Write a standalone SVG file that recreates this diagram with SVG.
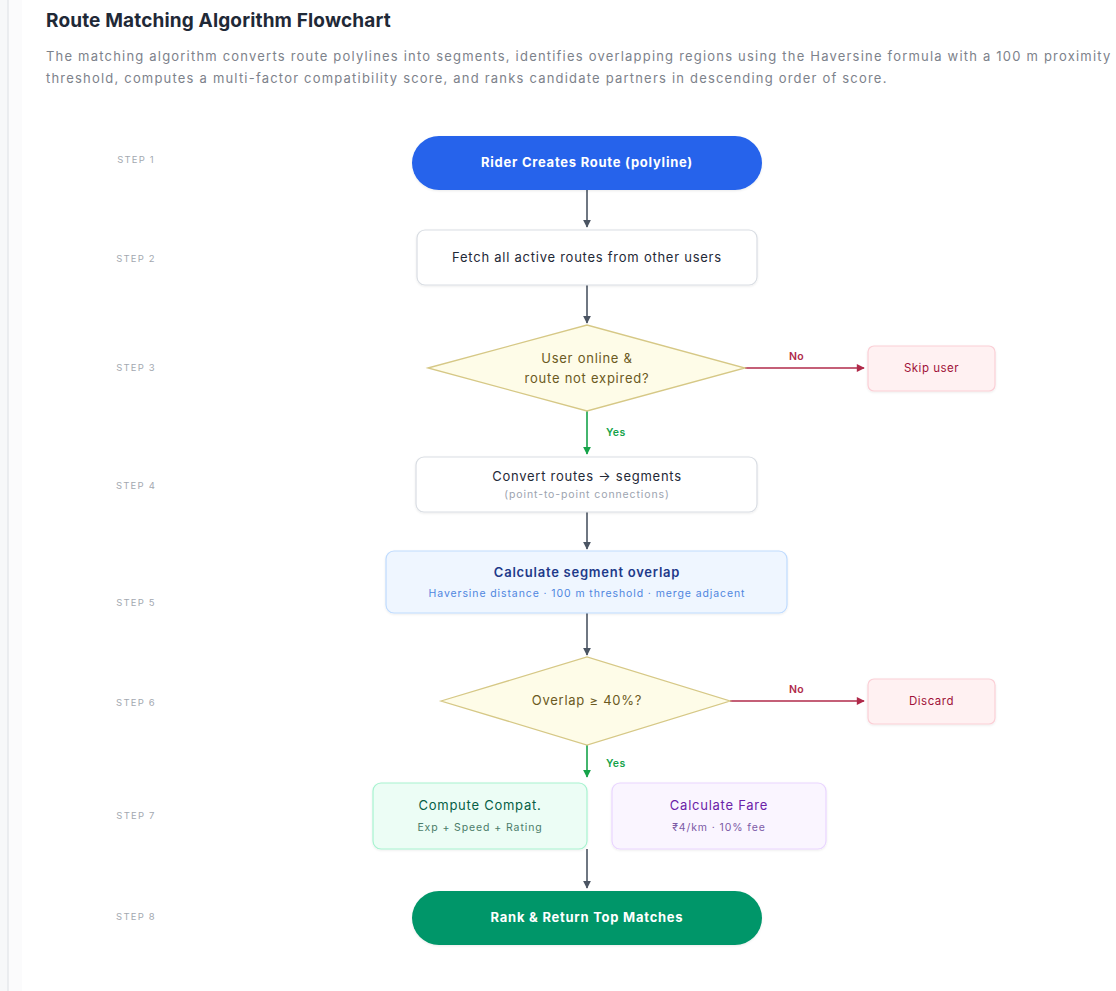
<svg xmlns="http://www.w3.org/2000/svg" width="1116" height="991" viewBox="0 0 1116 991">
<defs>
<style>
text{font-family:Inter,"Noto Sans","Liberation Sans",sans-serif}
.step{font-size:9.5px;fill:#a3a8b0;letter-spacing:1.2px;text-anchor:middle}
.t{font-size:13px;letter-spacing:0.75px;text-anchor:middle}
.s{font-size:10.5px;letter-spacing:0.9px;text-anchor:middle}
.lbl{font-size:10.5px;font-weight:600;letter-spacing:0.4px}
.box{fill:#ffffff;stroke:#d9dde3;stroke-width:1.2}
.conn{fill:none;stroke-width:1.6}
</style>
<marker id="ad" viewBox="0 0 10 10" refX="9" refY="5" markerWidth="8" markerHeight="8" orient="auto" markerUnits="userSpaceOnUse"><path d="M0,0 L10,5 L0,10 z" fill="#4b5563"/></marker>
<marker id="ag" viewBox="0 0 10 10" refX="9" refY="5" markerWidth="8" markerHeight="8" orient="auto" markerUnits="userSpaceOnUse"><path d="M0,0 L10,5 L0,10 z" fill="#16a34a"/></marker>
<marker id="ar" viewBox="0 0 10 10" refX="9" refY="5" markerWidth="9" markerHeight="8" orient="auto" markerUnits="userSpaceOnUse"><path d="M0,0 L10,5 L0,10 z" fill="#b02a4a"/></marker>
<filter id="sh" x="-10%" y="-20%" width="120%" height="150%"><feDropShadow dx="0" dy="1" stdDeviation="1.2" flood-color="#000" flood-opacity="0.08"/></filter>
</defs>
<rect width="1116" height="991" fill="#ffffff"/>
<rect x="0" y="0" width="8" height="991" fill="#f7f8f9"/>
<rect x="8" y="0" width="14" height="991" fill="#fbfbfc"/>
<line x1="8" y1="0" x2="8" y2="991" stroke="#e6e8eb" stroke-width="1.5"/>

<g id="header">
<text x="46" y="27" font-size="19" letter-spacing="0.15" font-weight="700" fill="#1f2937">Route Matching Algorithm Flowchart</text>
<text x="46" y="61" font-size="13" letter-spacing="1.2" fill="#7d828b">The matching algorithm converts route polylines into segments, identifies overlapping regions using the Haversine formula with a 100 m proximity</text>
<text x="46" y="83" font-size="13" letter-spacing="1.2" fill="#7d828b">threshold, computes a multi-factor compatibility score, and ranks candidate partners in descending order of score.</text>
</g>

<g id="steps">
<text class="step" x="136" y="163">STEP 1</text>
<text class="step" x="136" y="262">STEP 2</text>
<text class="step" x="136" y="371">STEP 3</text>
<text class="step" x="136" y="489">STEP 4</text>
<text class="step" x="136" y="606">STEP 5</text>
<text class="step" x="136" y="706">STEP 6</text>
<text class="step" x="136" y="819">STEP 7</text>
<text class="step" x="136" y="920">STEP 8</text>
</g>

<g id="connectors">
<line class="conn" x1="587" y1="190" x2="587" y2="227" stroke="#4b5563" marker-end="url(#ad)"/>
<line class="conn" x1="587" y1="285" x2="587" y2="323" stroke="#4b5563" marker-end="url(#ad)"/>
<line class="conn" x1="745" y1="368" x2="864" y2="368" stroke="#b02a4a" marker-end="url(#ar)"/>
<text class="lbl" x="789" y="360" fill="#b02a4a">No</text>
<line class="conn" x1="587" y1="411" x2="587" y2="454" stroke="#16a34a" marker-end="url(#ag)"/>
<text class="lbl" x="606" y="436" fill="#16a34a">Yes</text>
<line class="conn" x1="587" y1="512" x2="587" y2="549" stroke="#4b5563" marker-end="url(#ad)"/>
<line class="conn" x1="587" y1="613" x2="587" y2="655" stroke="#4b5563" marker-end="url(#ad)"/>
<line class="conn" x1="730" y1="701" x2="864" y2="701" stroke="#b02a4a" marker-end="url(#ar)"/>
<text class="lbl" x="789" y="693" fill="#b02a4a">No</text>
<line class="conn" x1="587" y1="745" x2="587" y2="777" stroke="#16a34a" marker-end="url(#ag)"/>
<text class="lbl" x="606" y="767" fill="#16a34a">Yes</text>
<line class="conn" x1="587" y1="849" x2="587" y2="888" stroke="#4b5563" marker-end="url(#ad)"/>
</g>

<g id="n1">
<rect x="412" y="136" width="350" height="54" rx="27" fill="#2563eb" filter="url(#sh)"/>
<text class="t" x="587" y="167" fill="#ffffff" font-weight="700">Rider Creates Route (polyline)</text>
</g>
<g id="n2">
<rect class="box" x="417" y="230" width="340" height="55" rx="8" filter="url(#sh)"/>
<text class="t" x="587" y="262" fill="#1f2937">Fetch all active routes from other users</text>
</g>
<g id="n3">
<polygon points="428,368 587,325 745,368 587,411" fill="#fefce8" stroke="#d6c886" stroke-width="1.3"/>
<text class="t" x="587" y="363" fill="#6b5a22">User online &amp;</text>
<text class="t" x="587" y="383" fill="#6b5a22">route not expired?</text>
</g>
<g id="n3b">
<rect x="868" y="346" width="127" height="45" rx="6" fill="#fff1f2" stroke="#fbcfd6" stroke-width="1.2" filter="url(#sh)"/>
<text x="931.5" y="372" font-size="11.5" letter-spacing="0.5" text-anchor="middle" fill="#9f1239">Skip user</text>
</g>
<g id="n4">
<rect class="box" x="416" y="457" width="341" height="55" rx="8" filter="url(#sh)"/>
<text class="t" x="587" y="481" fill="#1f2937">Convert routes → segments</text>
<text class="s" x="587" y="498" fill="#9ca3af">(point-to-point connections)</text>
</g>
<g id="n5">
<rect x="386" y="551" width="401" height="62" rx="8" fill="#eff6ff" stroke="#bfdbfe" stroke-width="1.2" filter="url(#sh)"/>
<text class="t" x="587" y="577" fill="#1e3a8a" font-weight="600">Calculate segment overlap</text>
<text class="s" x="587" y="597" fill="#4f86e0">Haversine distance · 100 m threshold · merge adjacent</text>
</g>
<g id="n6">
<polygon points="441,701 587,657 730,701 587,745" fill="#fefce8" stroke="#d6c886" stroke-width="1.3"/>
<text class="t" x="587" y="705" fill="#6b5a22">Overlap ≥ 40%?</text>
</g>
<g id="n6b">
<rect x="868" y="679" width="127" height="45" rx="6" fill="#fff1f2" stroke="#fbcfd6" stroke-width="1.2" filter="url(#sh)"/>
<text x="931.5" y="705" font-size="11.5" letter-spacing="0.5" text-anchor="middle" fill="#9f1239">Discard</text>
</g>
<g id="n7a">
<rect x="373" y="783" width="214" height="66" rx="8" fill="#ecfdf5" stroke="#a7f3d0" stroke-width="1.2" filter="url(#sh)"/>
<text class="t" x="480" y="810" fill="#065f46">Compute Compat.</text>
<text class="s" x="480" y="831" fill="#4b7c6a">Exp + Speed + Rating</text>
</g>
<g id="n7b">
<rect x="612" y="783" width="214" height="66" rx="8" fill="#faf5ff" stroke="#e9d5ff" stroke-width="1.2" filter="url(#sh)"/>
<text class="t" x="719" y="810" fill="#6b21a8">Calculate Fare</text>
<text class="s" x="719" y="831" fill="#7c5aa6">₹4/km · 10% fee</text>
</g>
<g id="n8">
<rect x="412" y="891" width="350" height="54" rx="27" fill="#059669" filter="url(#sh)"/>
<text class="t" x="587" y="922" fill="#ffffff" font-weight="700">Rank &amp; Return Top Matches</text>
</g>
</svg>
